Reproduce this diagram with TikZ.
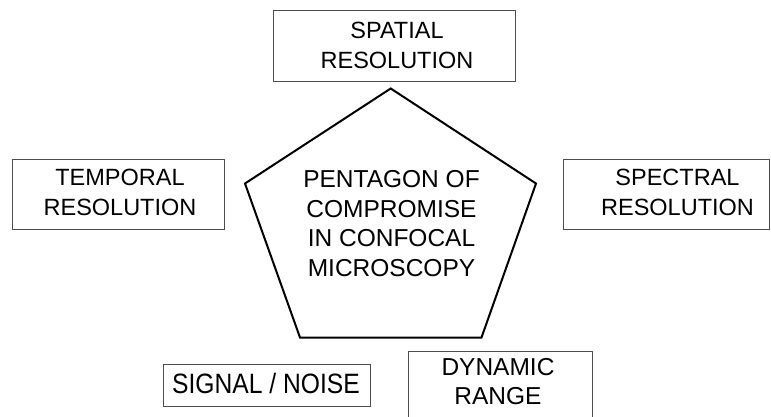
\documentclass[tikz,border=0pt]{standalone}
\usepackage{fontspec}
\setmainfont{Liberation Sans}
\newfontfamily\narrowsans[FakeStretch=0.88]{Liberation Sans}
\begin{document}
\begin{tikzpicture}[x=1pt,y=-1pt,
  boxstyle/.style={draw=black!70,line width=0.9pt,rectangle,inner sep=0pt},
  lbl/.style={align=center,font=\fontsize{23.5}{29.5}\selectfont,inner sep=0pt},
  biglbl/.style={lbl,font=\fontsize{24.5}{29.5}\selectfont},
  narrowlbl/.style={lbl,font=\narrowsans\fontsize{28}{32}\selectfont},
  pent/.style={draw=black,line width=2pt,line join=miter}]
\useasboundingbox (0,0) rectangle (771,417);
\clip (0,0) rectangle (771,417);
% boxes
\node[boxstyle,minimum width=242pt,minimum height=71pt] (spatialbox) at (394,45.5) {};
\node[lbl] (spatial) at (397,45.5) {SPATIAL\\RESOLUTION};
\node[boxstyle,minimum width=212pt,minimum height=70pt] (temporalbox) at (118,194.5) {};
\node[lbl] (temporal) at (120,192.5) {TEMPORAL\\RESOLUTION};
\node[boxstyle,minimum width=206pt,minimum height=70pt] (spectralbox) at (666.5,194.5) {};
\node[lbl] (spectral) at (677.5,192.5) {SPECTRAL\\RESOLUTION};
\node[boxstyle,minimum width=207pt,minimum height=42pt] (signalbox) at (266.5,385) {};
\node[narrowlbl] (signal) at (266,383.5) {SIGNAL / NOISE};
\node[boxstyle,minimum width=184pt,minimum height=100pt] (dynamicbox) at (500,401) {};
\node[biglbl] (dynamic) at (498,381.5) {DYNAMIC\\RANGE};
% pentagon
\coordinate (ptop) at (390.7,88.5);
\coordinate (pleft) at (245,183.5);
\coordinate (pright) at (536,183.5);
\coordinate (pbl) at (300,337.5);
\coordinate (pbr) at (481.5,337.5);
\draw[pent] (ptop) -- (pright) -- (pbr) -- (pbl) -- (pleft) -- cycle;
\node[biglbl] (center) at (391.5,223.5) {PENTAGON OF\\COMPROMISE\\IN CONFOCAL\\MICROSCOPY};
\end{tikzpicture}
\end{document}
